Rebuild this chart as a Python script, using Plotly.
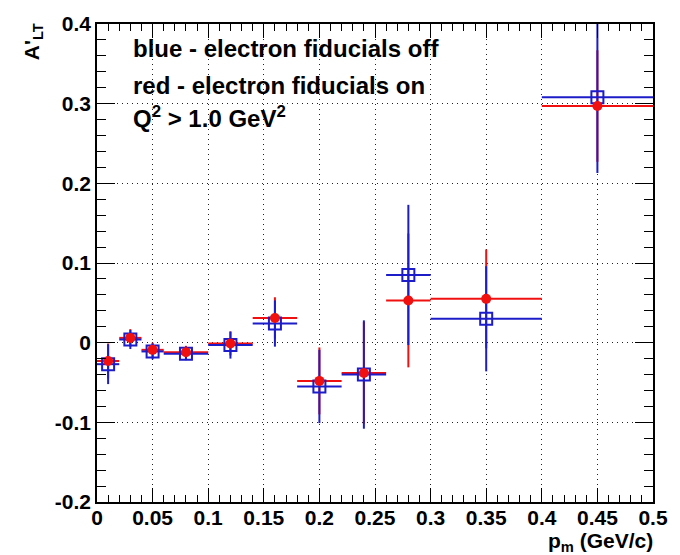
import plotly.graph_objects as go

# data
pm = [0.01, 0.03, 0.05, 0.08, 0.12, 0.16, 0.20, 0.24, 0.28, 0.35, 0.45]
pm_half_width = [0.01, 0.01, 0.01, 0.02, 0.02, 0.02, 0.02, 0.02, 0.02, 0.05, 0.05]
blue_y = [-0.027, 0.004, -0.011, -0.014, -0.003, 0.024, -0.055, -0.040, 0.085, 0.030, 0.308]
blue_err = [0.025, 0.012, 0.010, 0.008, 0.017, 0.029, 0.046, 0.068, 0.088, 0.066, 0.095]
red_y = [-0.023, 0.006, -0.009, -0.012, -0.001, 0.031, -0.048, -0.038, 0.053, 0.055, 0.297]
red_err = [0.022, 0.011, 0.009, 0.008, 0.015, 0.026, 0.042, 0.064, 0.084, 0.062, 0.070]

x_tickvals = [0, 0.05, 0.1, 0.15, 0.2, 0.25, 0.3, 0.35, 0.4, 0.45, 0.5]
x_ticktext = ["0", "0.05", "0.1", "0.15", "0.2", "0.25", "0.3", "0.35", "0.4", "0.45", "0.5"]
y_tickvals = [-0.2, -0.1, 0, 0.1, 0.2, 0.3, 0.4]
y_ticktext = ["-0.2", "-0.1", "0", "0.1", "0.2", "0.3", "0.4"]

BLUE = "#1c1cc8"
RED = "#f01010"
FONT = "Liberation Sans"

fig = go.Figure()

fig.add_trace(go.Scatter(
    x=pm, y=red_y, mode="markers",
    marker=dict(color=RED, size=1, opacity=0),
    error_x=dict(type="data", array=pm_half_width, color=RED, thickness=2, width=0),
    error_y=dict(type="data", array=red_err, color=RED, thickness=2, width=0),
    showlegend=False, hoverinfo="skip"))

fig.add_trace(go.Scatter(
    x=pm, y=blue_y, mode="markers",
    marker=dict(symbol="square-open", color=BLUE, size=12, line=dict(width=2, color=BLUE)),
    error_x=dict(type="data", array=pm_half_width, color=BLUE, thickness=2, width=0),
    error_y=dict(type="data", array=blue_err, color=BLUE, thickness=2, width=0),
    showlegend=False))

fig.add_trace(go.Scatter(
    x=pm, y=red_y, mode="markers",
    marker=dict(symbol="circle", color=RED, size=10, line=dict(width=0)),
    showlegend=False))

axis_common = dict(
    showline=True, linecolor="black", linewidth=1.5, mirror="allticks",
    ticks="inside", tickcolor="black", tickwidth=1.2,
    showgrid=True, gridcolor="#222222", gridwidth=1, griddash="1px,4px",
    zeroline=False,
    tickfont=dict(family=FONT, size=21, color="black", weight="bold"),
)

fig.update_xaxes(range=[0, 0.5], tickvals=x_tickvals, ticktext=x_ticktext, ticklen=14,
                 ticklabelstandoff=-4,
                 minor=dict(dtick=0.01, ticks="inside", ticklen=7, tickcolor="black", showgrid=False),
                 **axis_common)
fig.update_yaxes(range=[-0.2, 0.4], tickvals=y_tickvals, ticktext=y_ticktext, ticklen=18,
                 minor=dict(dtick=0.02, ticks="inside", ticklen=9, tickcolor="black", showgrid=False),
                 **axis_common)

text_font = dict(family=FONT, size=24, color="black", weight="bold")
annotations = [
    dict(text="blue - electron fiducials off", x=0.062, y=0.948),
    dict(text="red - electron fiducials on", x=0.062, y=0.872),
    dict(text="Q<sup>2</sup> > 1.0 GeV<sup>2</sup>", x=0.062, y=0.806),
]
for a in annotations:
    fig.add_annotation(xref="paper", yref="paper", xanchor="left", yanchor="middle",
                       showarrow=False, font=text_font, **a)

fig.add_annotation(text="A'<sub>LT</sub>", xref="paper", yref="paper", x=-0.115, y=0.962,
                   textangle=-90, showarrow=False, xanchor="center", yanchor="middle",
                   font=dict(family=FONT, size=21, color="black", weight="bold"))
fig.add_annotation(text="p<sub>m</sub> (GeV/c)", xref="paper", yref="paper", x=1.003, y=-0.083,
                   showarrow=False, xanchor="right", yanchor="middle",
                   font=dict(family=FONT, size=21, color="black", weight="bold"))

fig.update_layout(
    width=680, height=555,
    margin=dict(l=97, r=19, t=19, b=53),
    paper_bgcolor="white", plot_bgcolor="white",
)

fig.write_html("out.html")
